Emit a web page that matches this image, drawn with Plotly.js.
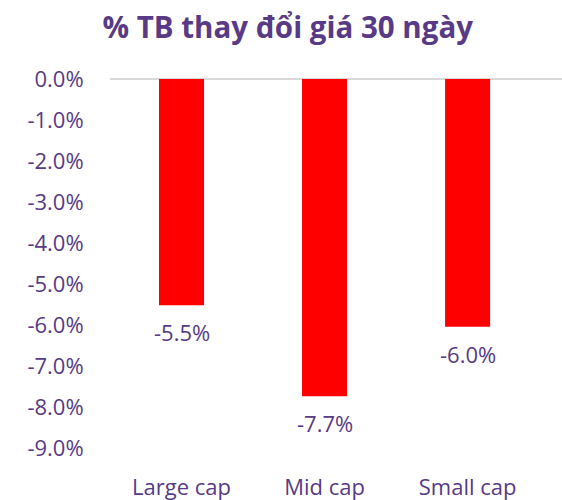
<!DOCTYPE html>
<html><head><meta charset="utf-8">
<script src="https://cdn.plot.ly/plotly-3.0.1.min.js"></script>
<style>body{margin:0;padding:0;background:#fff}#c{width:562px;height:500px}</style>
</head><body><div id="c"></div>
<script>
const categories = ["Large cap", "Mid cap", "Small cap"];
const values = [-0.0552, -0.0774, -0.0604];
const valueLabels = ["-5.5%", "-7.7%", "-6.0%"];
const tickVals = [0, -0.01, -0.02, -0.03, -0.04, -0.05, -0.06, -0.07, -0.08, -0.09];
const tickLabels = ["0.0%", "-1.0%", "-2.0%", "-3.0%", "-4.0%", "-5.0%", "-6.0%", "-7.0%", "-8.0%", "-9.0%"];

const purple = "#583a86";
const font = "'Open Sans', sans-serif";

const trace = {
  type: "bar", x: categories, y: values,
  marker: {color: "#ff0000"},
  hoverinfo: "none"
};

const annotations = categories.map((c, i) => ({
  x: c, y: values[i], xref: "x", yref: "y",
  text: valueLabels[i],
  showarrow: false, yanchor: "top", yshift: -10,
  font: {family: font, size: 22, color: purple}
}));

const layout = {
  width: 562, height: 500,
  margin: {l: 110, r: 0, t: 79, b: 52},
  paper_bgcolor: "#fff", plot_bgcolor: "#fff",
  bargap: 0.685,
  showlegend: false,
  title: {text: "<b>% TB thay đổi giá 30 ngày</b>", x: 0.512, xanchor: "center", y: 0.945, yanchor: "middle",
          font: {family: font, size: 29.5, color: purple}},
  xaxis: {range: [-0.5, 2.66], showgrid: false, showline: false, zeroline: false,
          ticks: "outside", ticklen: 20, tickcolor: "rgba(0,0,0,0)",
          tickfont: {family: font, size: 22, color: purple}},
  yaxis: {range: [-0.09, 0], tickvals: tickVals, ticktext: tickLabels,
          showgrid: false, showline: false, zeroline: true, zerolinecolor: "#d9d9d9", zerolinewidth: 2,
          ticks: "outside", ticklen: 21, tickcolor: "rgba(0,0,0,0)",
          tickfont: {family: font, size: 22, color: purple}},
  annotations: annotations
};

Plotly.newPlot("c", [trace], layout, {displayModeBar: false, staticPlot: true});
</script></body></html>
